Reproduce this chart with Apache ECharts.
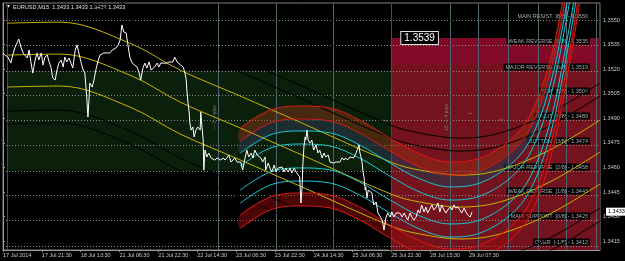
<!DOCTYPE html>
<html><head><meta charset="utf-8">
<script src="https://cdn.jsdelivr.net/npm/echarts@6/dist/echarts.min.js"></script>
<style>html,body{margin:0;padding:0;background:#000}#c{width:625px;height:261px}</style>
</head><body><div id="c"></div>
<script>
// ---------- data ----------
const xTickBars = [0,64,128,192,256,320,384,448,512,576,640,704,768];
const xTickLabels = ['17 Jul 2014','17 Jul 21:30','18 Jul 13:30','21 Jul 06:30','21 Jul 22:30','22 Jul 14:30','23 Jul 06:30','23 Jul 22:30','24 Jul 14:30','25 Jul 06:30','25 Jul 22:30','28 Jul 15:30','29 Jul 07:30'];
const yTicks = [1.3415,1.3430,1.3445,1.3460,1.3475,1.3490,1.3505,1.3520,1.3535,1.3550];

// EURUSD M15 close, [bar index, price]
const eurusd = [[0,1.35299],[3,1.35286],[8,1.35274],[13,1.35237],[16,1.35286],[20,1.35335],[23,1.35360],[26,1.35384],[30,1.35329],[33,1.35299],[36,1.35305],[40,1.35268],[43,1.35317],[46,1.35244],[49,1.35176],[53,1.35256],[56,1.35299],[59,1.35256],[63,1.35299],[66,1.35225],[69,1.35274],[73,1.35286],[76,1.35244],[79,1.35213],[82,1.35146],[86,1.35134],[89,1.35195],[92,1.35237],[96,1.35256],[99,1.35213],[102,1.35274],[105,1.35244],[109,1.35268],[112,1.35237],[115,1.35207],[119,1.35317],[122,1.35347],[125,1.35299],[129,1.35237],[132,1.35195],[135,1.35176],[138,1.35030],[140,1.34908],[142,1.35030],[143,1.35115],[147,1.35091],[150,1.35134],[153,1.35195],[157,1.35256],[160,1.35286],[163,1.35274],[166,1.35299],[170,1.35299],[173,1.35305],[176,1.35299],[180,1.35317],[183,1.35305],[186,1.35329],[190,1.35347],[193,1.35378],[196,1.35470],[199,1.35427],[203,1.35421],[206,1.35347],[209,1.35274],[213,1.35237],[216,1.35244],
[221,1.35213],[224,1.35183],[227,1.35134],[231,1.35213],[234,1.35237],[237,1.35207],[241,1.35244],[244,1.35195],[247,1.35183],[250,1.35213],[254,1.35237],[257,1.35213],[260,1.35237],[264,1.35237],[267,1.35244],[270,1.35237],[274,1.35244],[277,1.35256],[280,1.35244],[283,1.35274],[287,1.35244],[290,1.35237],[293,1.35225],[297,1.35213],[300,1.35176],[302,1.35134],[303,1.35073],[305,1.34993],[307,1.34932],[308,1.34871],[310,1.34828],[313,1.34847],[315,1.34786],[318,1.34828],[321,1.34847],[325,1.34828],[326,1.34938],[328,1.34847],[330,1.34767],[331,1.34584],[333,1.34706],[336,1.34664],[339,1.34688],[343,1.34658],[346,1.34664],[349,1.34645],[353,1.34658],[356,1.34664],[359,1.34645],[363,1.34658],[366,1.34645],[369,1.34658],[372,1.34676],[376,1.34633],[379,1.34627],[382,1.34658],[386,1.34633],[389,1.34645],[392,1.34633],[395,1.34584],[399,1.34658],[402,1.34706],[405,1.34664],[409,1.34688],[412,1.34658],[415,1.34706],[419,1.34676],[422,1.34688],[425,1.34658],[428,1.34633],[432,1.34664],
[433,1.34584],[437,1.34627],[440,1.34596],[443,1.34572],[447,1.34615],[450,1.34572],[453,1.34596],[456,1.34584],[460,1.34603],[463,1.34572],[466,1.34596],[470,1.34572],[473,1.34596],[476,1.34566],[480,1.34596],[483,1.34572],[486,1.34566],[489,1.34542],[491,1.34383],[493,1.34480],[494,1.34603],[496,1.34725],[498,1.34786],[499,1.34767],[501,1.34828],[503,1.34767],[506,1.34749],[509,1.34767],[512,1.34706],[516,1.34737],[519,1.34688],[522,1.34706],[526,1.34658],[529,1.34688],[532,1.34664],[536,1.34676],[539,1.34633],[542,1.34645],[545,1.34627],[549,1.34633],[552,1.34645],[555,1.34633],[559,1.34658],[562,1.34645],[565,1.34658],[568,1.34645],[572,1.34664],[575,1.34658],[578,1.34658],[582,1.34688],[585,1.34719],[587,1.34737],[588,1.34694],[590,1.34664],[592,1.34627],[593,1.34584],[595,1.34542],[597,1.34462],[598,1.34480],[600,1.34413],[602,1.34462],
[605,1.34474],[608,1.34444],[611,1.34371],[615,1.34389],[618,1.34322],[621,1.34328],[625,1.34279],[628,1.34218],[631,1.34291],[634,1.34322],[638,1.34297],[641,1.34328],[644,1.34297],[648,1.34322],[651,1.34310],[654,1.34322],[658,1.34297],[661,1.34322],[664,1.34310],[667,1.34279],[671,1.34322],[674,1.34297],[677,1.34279],[681,1.34297],[684,1.34340],[687,1.34322],[690,1.34371],[694,1.34328],[697,1.34358],[700,1.34322],[704,1.34352],[707,1.34371],[710,1.34340],[714,1.34358],[717,1.34383],[720,1.34328],[723,1.34371],[727,1.34340],[730,1.34322],[733,1.34340],[737,1.34358],[740,1.34340],[743,1.34371],[746,1.34352],[750,1.34358],[753,1.34340],[756,1.34322],[760,1.34352],[763,1.34328],[766,1.34310],[770,1.34297],[773,1.34328]];

const murreyNames = ['MAIN RESIST  [8/8]','WEAK REVERSE  [7/8]','MAJOR REVERSE  [6/8]','TOP  [5/8]','PIVOT  [4/8]','BOTTOM  [3/8]','MAJOR REVERSE  [2/8]','WEAK REVERSE  [1/8]','MAIN SUPPORT  [0/8]','OVER  [-1/8]'];
const murreyLevels = [1.3550,1.3535,1.3519,1.3504,1.3489,1.3474,1.3458,1.3443,1.3428,1.3412];

// long regression channel: centre line and line offsets
const longBars = [7,94,209,292,391,489,643,687,753,819,901,984];
const longMid  = [1.35286,1.35292,1.35164,1.34999,1.34841,1.34682,1.34432,1.34389,1.34358,1.34389,1.34511,1.34694];
const longYellowOffsets = [0.00195,0,-0.00195];
const longBlackOffsets = [0.00421,0.00342,-0.00342,-0.00421];

// short regression channel: centre line and line offsets
const shortBars = [391,440,489,539,588,638,687,737,786,836,869,901,926,951,984];
const shortMid  = [1.34535,1.34645,1.34670,1.34658,1.34584,1.34474,1.34377,1.34328,1.34352,1.34462,1.34615,1.34938,1.35378,1.35927,1.36843];
const shortOffsets = [0.00305,0.00226,0.00153,0.00073,-0.00073,-0.00153,-0.00226,-0.00305];
const shortColors  = ['#e01818','#e01818','#19c8d0','#19c8d0','#19c8d0','#19c8d0','#e01818','#e01818'];

// small rotated time-marker texts: [bar, price, text, rotation]
const markerTexts = [[349,1.34905,'— 0 —pips',90],[731,1.34905,'+0 — 4 pips',90],[630,1.34885,'3',90],[770,1.34930,'1',90],[822,1.34890,'2',90]];

const dayLines = [354,450,545,737,784,832,882,929,977];
const redLines = [7,640];
const zoneGreen = {from:7, to:640, top:1.3519, bottom:1.3458};
const zoneRed = {from:640, top:1.3539, inner:1.3523};
const lastPrice = 1.3433;
const boxPrice = 1.3539;

// ---------- chart ----------
const FONT = 'Liberation Sans';
const xMin = 0, xMax = 984, yMin = 1.34096, yMax = 1.35604;
const chart = echarts.init(document.getElementById('c'), null, {renderer:'canvas', width:625, height:261});

function chan(bars, mid, off){ return bars.map((b,i)=>[b, mid[i]+off]); }
function lineS(data, color, z){
  return {type:'line', data, showSymbol:false, smooth:0.35, silent:true, animation:false, z,
    lineStyle:{color, width:1}};
}
function band(bars, mid, offA, offB, color, z){
  const up = chan(bars, mid, offA), lo = chan(bars, mid, offB);
  return {type:'custom', z, silent:true, clip:true, animation:false, data:[0],
    renderItem(params, api){
      const pts = up.map(p=>api.coord(p)).concat(lo.slice().reverse().map(p=>api.coord(p)));
      return {type:'polygon', shape:{points:pts, smooth:0.35}, style:{fill:color}};
    }};
}

const series = [];
// zones
series.push({type:'line', data:[], z:1, silent:true,
  markArea:{silent:true, data:[
    [{xAxis:zoneGreen.from, yAxis:zoneGreen.top, itemStyle:{color:'#0a200a'}},{xAxis:zoneGreen.to, yAxis:zoneGreen.bottom}],
    [{xAxis:zoneRed.from, yAxis:zoneRed.top, itemStyle:{color:'#820a29'}},{xAxis:xMax, yAxis:yMin}],
    [{xAxis:zoneRed.from, yAxis:zoneRed.inner, itemStyle:{color:'rgba(95,32,10,0.38)'}},{xAxis:xMax, yAxis:yMin}]
  ]}});
// vertical lines
series.push({type:'line', data:[], z:2, silent:true,
  markLine:{silent:true, symbol:'none', animation:false, label:{show:false},
    data: dayLines.map(v=>({xAxis:v, lineStyle:{color:'#4f6670', type:'solid', width:1}}))
      .concat(redLines.map(v=>({xAxis:v, lineStyle:{color:'#d01010', type:'solid', width:1}})))}});
// murrey lines + labels
series.push({type:'custom', z:3, silent:true, animation:false, clip:false,
  data: murreyLevels.map((v,i)=>[i, v]),
  renderItem(params, api){
    const i = api.value(0), v = api.value(1);
    const cs = params.coordSys;
    const y = Math.round(api.coord([xMin, v])[1]) + 0.5;
    return {type:'group', children:[
      {type:'line', shape:{x1:cs.x, y1:y, x2:cs.x+cs.width, y2:y},
        style:{stroke:'#8c8c8c', lineWidth:1, lineDash:[1,2]}},
      {type:'text', x:cs.x+cs.width-10, y:y-1,
        style:{text:murreyNames[i]+' - '+v.toFixed(4), align:'right', verticalAlign:'bottom',
          fill:'#aaaaaa', font:'5.5px "Liberation Sans"', backgroundColor:'#000', padding:[1,2,0,2]}}
    ]};
  }});
// rotated marker texts
series.push({type:'custom', z:3, silent:true, animation:false, clip:true,
  data: markerTexts.map(t=>[t[0], t[1]]),
  renderItem(params, api){
    const t = markerTexts[params.dataIndex];
    const p = api.coord([api.value(0), api.value(1)]);
    return {type:'text', x:p[0], y:p[1], rotation:t[3]*Math.PI/180,
      style:{text:t[2], align:'center', verticalAlign:'middle', fill:'#7a7a7a', font:'5px "Liberation Sans"'}};
  }});
// short channel fills
series.push(band(shortBars, shortMid, shortOffsets[0], shortOffsets[1], 'rgba(160,55,20,0.40)', 4));
series.push(band(shortBars, shortMid, shortOffsets[1], shortOffsets[2], 'rgba(40,55,75,0.6)', 4));
series.push(band(shortBars, shortMid, shortOffsets[6], shortOffsets[7], 'rgba(150,10,10,0.5)', 4));
// long channel lines
longBlackOffsets.forEach(o=>series.push(lineS(chan(longBars, longMid, o), '#000000', 5)));
longYellowOffsets.forEach(o=>series.push(lineS(chan(longBars, longMid, o), '#c8b400', 5)));
// short channel lines
shortOffsets.forEach((o,i)=>series.push(lineS(chan(shortBars, shortMid, o), shortColors[i], 5)));
// price
series.push({type:'line', data:eurusd, showSymbol:false, silent:true, animation:false, z:8,
  lineStyle:{color:'#ffffff', width:1},
  markPoint:{silent:true, animation:false, symbol:'rect', symbolSize:0, data:[
    {coord:[xMax,lastPrice], label:{show:true, position:'right', offset:[1,0], formatter:lastPrice.toFixed(4),
      backgroundColor:'#ffffff', color:'#000', fontFamily:FONT, fontSize:5.5, padding:[1,2]}},
    {coord:[zoneRed.from,boxPrice], label:{show:true, position:'right', offset:[5,0], formatter:boxPrice.toFixed(4),
      backgroundColor:'#000', borderColor:'#e0e0e0', borderWidth:1, color:'#fff', fontFamily:FONT, fontSize:10, padding:[1,3]}}
  ]}});

chart.setOption({
  backgroundColor:'#000',
  animation:false,
  grid:{left:3, right:25, top:3, bottom:11, show:true, borderColor:'#808080', borderWidth:1, backgroundColor:'#000'},
  xAxis:{type:'value', min:xMin, max:xMax, splitLine:{show:false},
    axisLine:{lineStyle:{color:'#9a9a9a'}},
    axisTick:{customValues:xTickBars, length:2, lineStyle:{color:'#9a9a9a'}},
    axisLabel:{customValues:xTickBars, formatter:v=>xTickLabels[Math.round(v/64)]||'', align:'left',
      color:'#c8c8c8', fontFamily:FONT, fontSize:5.5, margin:2}},
  yAxis:{type:'value', position:'right', min:yMin, max:yMax, scale:true, splitLine:{show:false},
    axisLine:{show:true, lineStyle:{color:'#9a9a9a'}},
    axisTick:{show:true, customValues:yTicks, length:2, lineStyle:{color:'#9a9a9a'}},
    axisLabel:{customValues:yTicks, formatter:v=>v.toFixed(4), color:'#c8c8c8', fontFamily:FONT, fontSize:5.5, margin:3}},
  graphic:[
    {type:'polygon', shape:{points:[[6,5],[10,5],[8,8]]}, style:{fill:'#fff'}},
    {type:'text', left:13, top:4, style:{text:'EURUSD,M15  1.3433 1.3433 1.3432 1.3433', fill:'#e0e0e0', font:'5.6px "Liberation Sans"'}}
  ],
  series
});
</script></body></html>
